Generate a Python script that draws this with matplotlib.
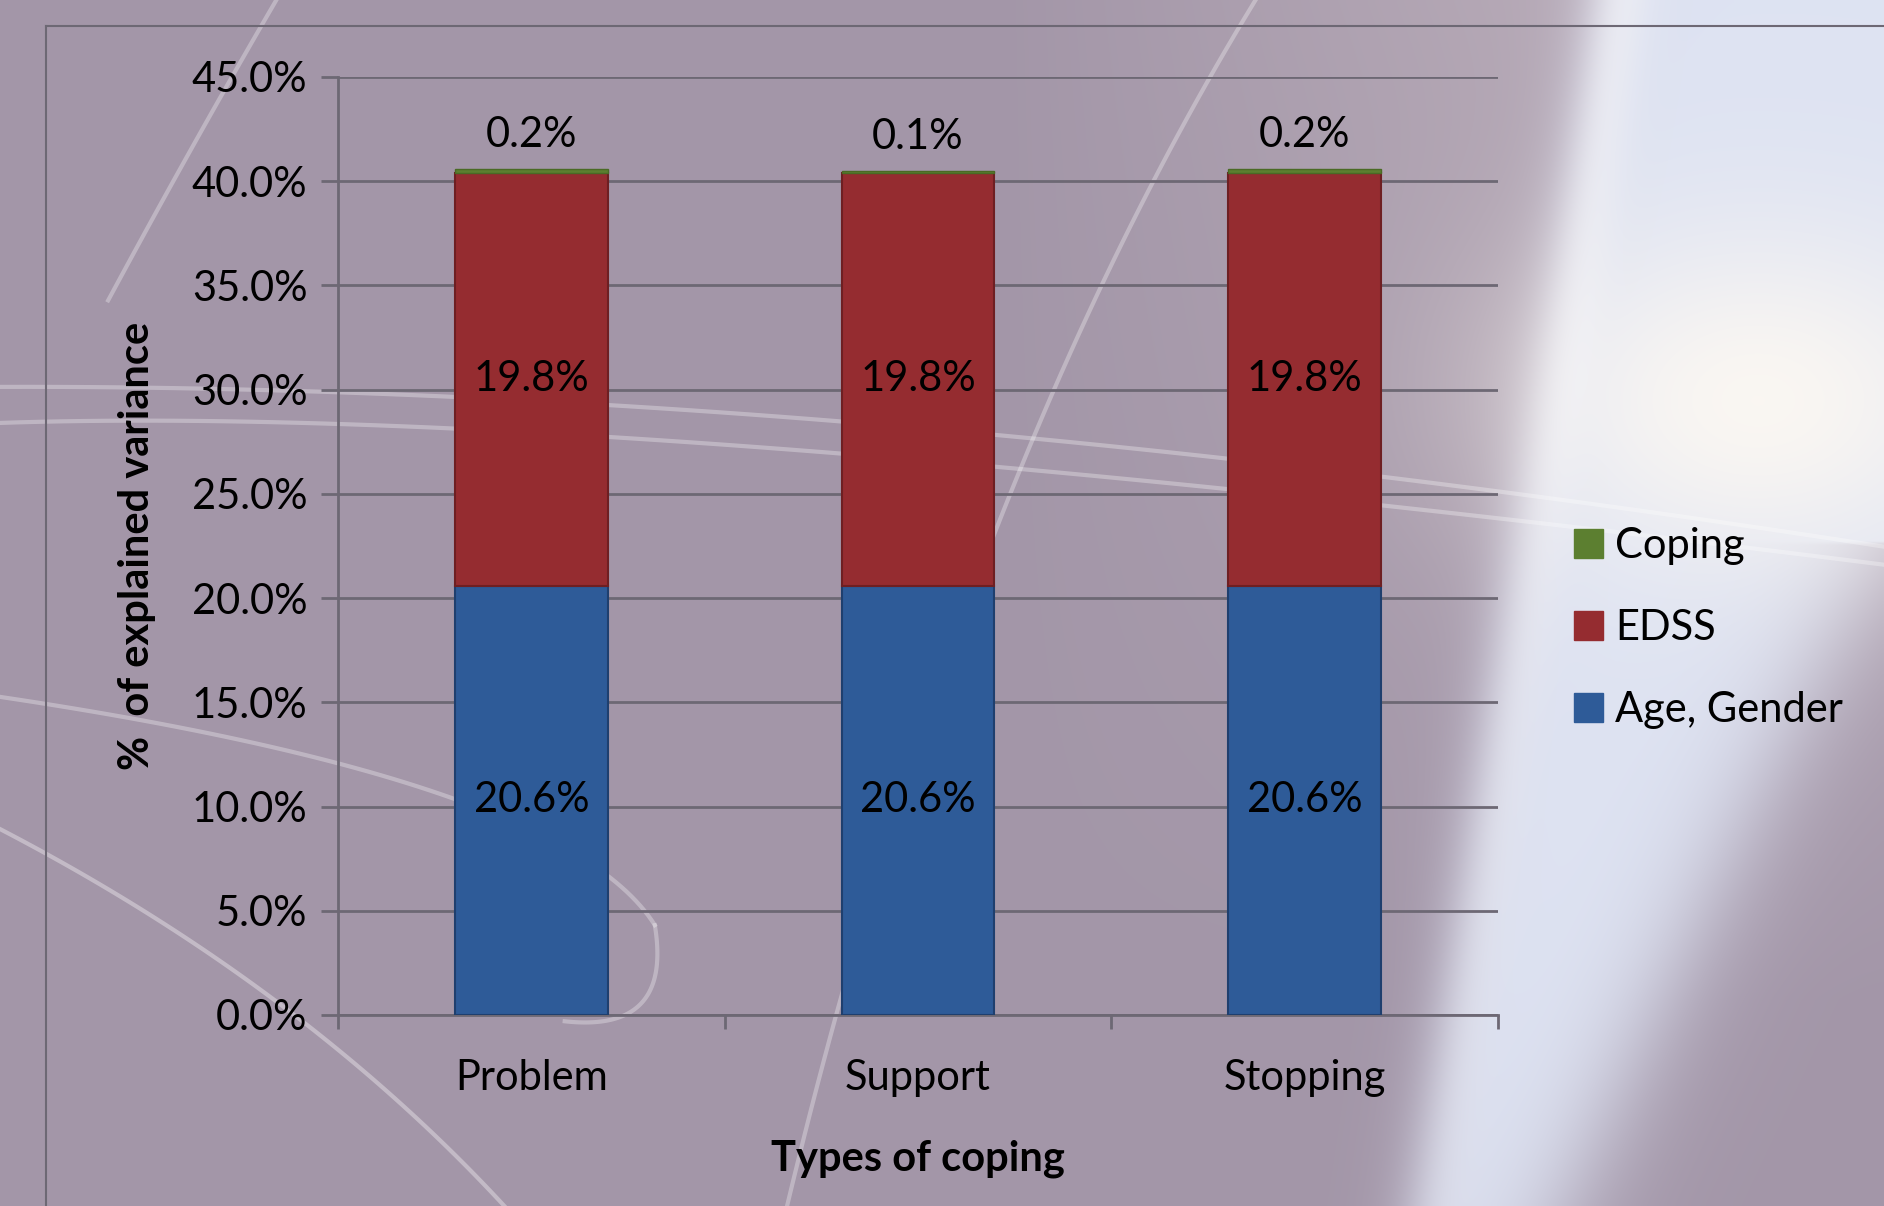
import numpy as np
import matplotlib
matplotlib.use("Agg")
import matplotlib.pyplot as plt
from matplotlib.patches import Patch
from matplotlib.lines import Line2D

# data
categories = ["Problem", "Support", "Stopping"]
age_gender = [20.6, 20.6, 20.6]
edss = [19.8, 19.8, 19.8]
coping = [0.2, 0.1, 0.2]
yticks = [0, 5, 10, 15, 20, 25, 30, 35, 40, 45]

blue = "#2e5b98"
red = "#952c30"
green = "#5c7f30"
grid_c = "#6d6874"
fs = 30

plt.rcParams["font.family"] = ["Lato", "DejaVu Sans"]

W, H = 1884, 1206
fig = plt.figure(figsize=(W / 100, H / 100), dpi=100)

# background: purple with a bright sweep on the right
bg = fig.add_axes([0, 0, 1, 1], zorder=-10)
nx, ny = 471, 302
X, Y = np.meshgrid(np.linspace(0, W, nx), np.linspace(0, H, ny))
img = np.ones((ny, nx, 3)) * np.array([0.64, 0.59, 0.66])
# lighter pinkish tone in the upper right part
t = (np.clip((X - 1000) / 600, 0, 1) * np.clip(1 - Y / 1000, 0, 1))[..., None]
img = img * (1 - 0.5 * t) + np.array([0.80, 0.75, 0.78]) * 0.5 * t
# bright band
xl = 1598 - 0.15 * Y
xr = np.where(Y < 541, 4000, 1884 - (Y - 541) * 0.47)
m = 1 / (1 + np.exp(-(X - xl) / 18)) / (1 + np.exp((X - xr) / 35))
band = np.array([0.87, 0.89, 0.95])
img = img * (1 - m[..., None]) + band * m[..., None]
# glow
g = np.exp(-(((X - 1760) / 240) ** 2 + ((Y - 400) / 170) ** 2))
img = img * (1 - 0.85 * g[..., None]) + np.array([1.0, 0.98, 0.95]) * 0.85 * g[..., None]
rim = np.exp(-((X - xl - 25) / 30) ** 2) * np.clip(1 - Y / 1600, 0, 1)
img = img * (1 - 0.45 * rim[..., None]) + 0.45 * rim[..., None]
bg.imshow(np.clip(img, 0, 1), extent=[0, W, H, 0], aspect="auto", interpolation="bilinear")
bg.set_xlim(0, W)
bg.set_ylim(H, 0)
bg.axis("off")

# faint decorative curves (quadratic beziers)
def bez(p0, p1, p2):
    s = np.linspace(0, 1, 60)[:, None]
    p = (1 - s) ** 2 * np.array(p0) + 2 * (1 - s) * s * np.array(p1) + s ** 2 * np.array(p2)
    return p[:, 0] * 1.2015, p[:, 1] * 1.2015

for p0, p1, p2, a in [
    ((0, 322), (700, 320), (1568, 455), 0.3),
    ((0, 352), (500, 335), (1568, 470), 0.3),
    ((90, 250), (160, 120), (230, 0), 0.3),
    ((0, 580), (470, 650), (545, 770), 0.3),
    ((545, 770), (560, 860), (470, 850), 0.3),
    ((0, 690), (250, 820), (420, 1004), 0.35),
    ((655, 1004), (800, 400), (1045, 0), 0.3),
]:
    cx, cy = bez(p0, p1, p2)
    bg.plot(cx, cy, color="white", lw=3, alpha=a)

# chart area border
fig.add_artist(Line2D([46 / W, 46 / W], [0, 1 - 26 / H], color=grid_c, lw=1.5))
fig.add_artist(Line2D([46 / W, 1], [1 - 26 / H, 1 - 26 / H], color=grid_c, lw=1.5))

ax = fig.add_axes([338 / W, 1 - 1015 / H, (1498 - 338) / W, (1015 - 77) / H])
ax.set_facecolor("none")
x = np.arange(len(categories))
bw = 0.395
bottom2 = np.array(age_gender)
bottom3 = bottom2 + np.array(edss)
ax.bar(x, age_gender, bw, color=blue, edgecolor="#1f3f6e", lw=1.5, zorder=3, label="Age, Gender")
ax.bar(x, edss, bw, bottom=bottom2, color=red, edgecolor="#6e1f22", lw=1.5, zorder=3, label="EDSS")
ax.bar(x, coping, bw, bottom=bottom3, color=green, edgecolor="#4a6a25", lw=1, zorder=3, label="Coping")

for i in range(len(categories)):
    ax.text(x[i], age_gender[i] / 2, f"{age_gender[i]:.1f}%", ha="center", va="center", fontsize=fs, zorder=5)
    ax.text(x[i], bottom2[i] + edss[i] / 2, f"{edss[i]:.1f}%", ha="center", va="center", fontsize=fs, zorder=5)
    ax.text(x[i], bottom3[i] + coping[i] + 1.6, f"{coping[i]:.1f}%", ha="center", va="center", fontsize=fs, zorder=5)

ax.set_xlim(-0.5, 2.5)
ax.set_ylim(0, 45)
ax.set_yticks(yticks)
ax.set_yticklabels([f"{v:.1f}%" for v in yticks], fontsize=fs)
ax.yaxis.grid(True, color=grid_c, lw=2, zorder=1)
ax.set_axisbelow(True)
ax.set_xticks([-0.5, 0.5, 1.5, 2.5])
ax.set_xticklabels([])
ax.set_xticks(x, minor=True)
ax.set_xticklabels(categories, minor=True, fontsize=fs)
ax.tick_params(axis="x", which="major", length=10, width=2, color=grid_c)
ax.tick_params(axis="x", which="minor", length=0, pad=32)
ax.tick_params(axis="y", length=12, width=2, color=grid_c, pad=10)
for s in ["top", "right"]:
    ax.spines[s].set_visible(False)
for s in ["left", "bottom"]:
    ax.spines[s].set_color(grid_c)
    ax.spines[s].set_linewidth(2)

ax.set_xlabel("Types of coping", fontsize=fs, fontweight="bold", labelpad=30)
ax.set_ylabel("%  of explained variance", fontsize=fs, fontweight="bold", labelpad=26)

handles = [Patch(color=green), Patch(color=red), Patch(color=blue)]
fig.legend(handles, ["Coping", "EDSS", "Age, Gender"], loc="center left",
           bbox_to_anchor=(1536 / W, 1 - 628 / H), frameon=False, fontsize=fs,
           handlelength=0.7, handleheight=0.7, handletextpad=0.3, labelspacing=1.05)

fig.savefig("out.png", dpi=100)
